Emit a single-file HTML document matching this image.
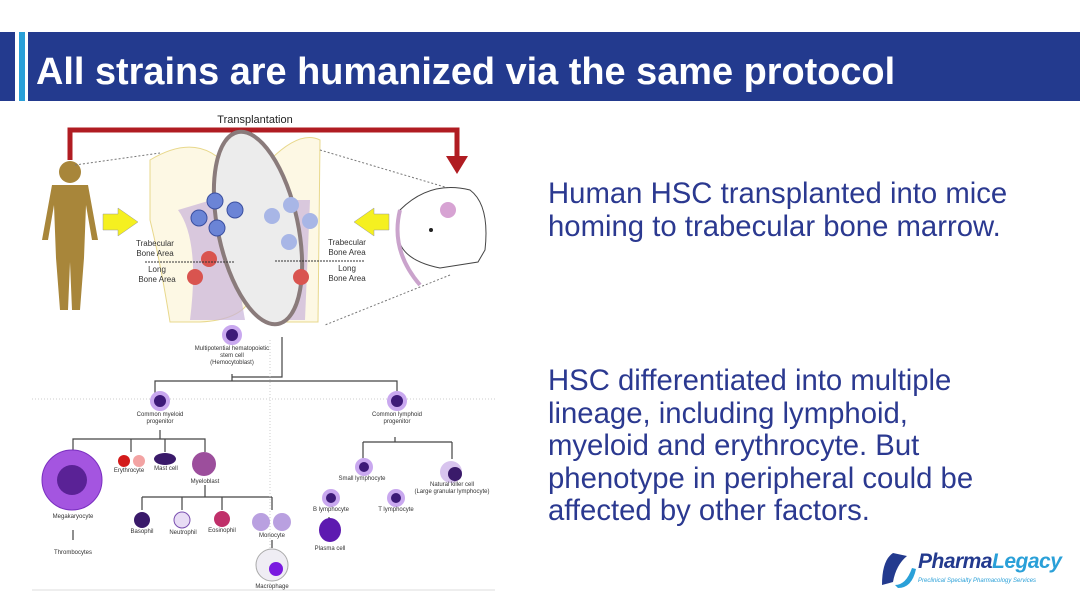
<!DOCTYPE html>
<html><head><meta charset="utf-8"><style>
body{margin:0;width:1080px;height:608px;background:#fff;position:relative;overflow:hidden;font-family:"Liberation Sans",sans-serif}
.t{position:absolute;left:548px;color:#2b3990;font-size:29.3px;line-height:32.5px;white-space:nowrap}
</style></head><body>
<div style="position:absolute;left:0;top:32px;width:15px;height:69px;background:#233a8e"></div>
<div style="position:absolute;left:19px;top:32px;width:6px;height:69px;background:#2aa0d8"></div>
<div style="position:absolute;left:28px;top:32px;width:1052px;height:69px;background:#233a8e"></div>
<div style="position:absolute;left:36px;top:50px;color:#fff;font-weight:bold;font-size:37.9px;line-height:44px;white-space:nowrap">All strains are humanized via the same protocol</div>
<div class="t" style="top:178px">Human HSC transplanted into mice<br>homing to trabecular bone marrow.</div>
<div class="t" style="top:365px">HSC differentiated into multiple<br>lineage, including lymphoid,<br>myeloid and erythrocyte. But<br>phenotype in peripheral could be<br>affected by other factors.</div>
<svg style="position:absolute;left:0;top:0" width="1080" height="608" font-family="Liberation Sans,sans-serif">
<text x="255" y="123" font-size="11" text-anchor="middle" fill="#222">Transplantation</text>
<path d="M70 160 V130 H457 V158" fill="none" stroke="#b01c22" stroke-width="5"/>
<polygon points="446,156 468,156 457,174" fill="#b01c22"/>
<g fill="#a8863a"><circle cx="70" cy="172" r="11"/><path d="M52 185 H88 L98 240 L92 240 L86 205 L84 258 L80 310 H72 L70 262 L68 310 H60 L56 258 L54 205 L48 240 L42 240 Z"/></g>
<path d="M150 160 Q200 130 230 170 L245 160 L250 300 Q240 320 200 322 L170 322 Q160 260 150 220 Z" fill="#fdf8e4" stroke="#e8d88c"/>
<path d="M270 160 Q300 130 320 140 L318 322 L280 322 Z" fill="#fdf8e4" stroke="#e8d88c"/>
<path d="M178 210 Q200 240 190 320 L245 320 Q230 240 245 190 Z" fill="#c9b3da" opacity=".7"/>
<path d="M295 200 L310 200 L305 320 L285 320 Z" fill="#c9b3da" opacity=".7"/>
<ellipse cx="258" cy="228" rx="40" ry="98" fill="#ececec" stroke="#8a7b7b" stroke-width="4" transform="rotate(-12 258 228)"/>
<g fill="#6b84d6" stroke="#3a4fa0"><circle cx="215" cy="201" r="8"/><circle cx="235" cy="210" r="8"/><circle cx="199" cy="218" r="8"/><circle cx="217" cy="228" r="8"/></g>
<g fill="#a8b6e6"><circle cx="272" cy="216" r="8"/><circle cx="291" cy="205" r="8"/><circle cx="289" cy="242" r="8"/><circle cx="310" cy="221" r="8"/></g>
<g fill="#d9544f"><circle cx="209" cy="259" r="8"/><circle cx="195" cy="277" r="8"/><circle cx="301" cy="277" r="8"/></g>
<line x1="145" y1="262" x2="235" y2="262" stroke="#333" stroke-dasharray="2,1"/>
<line x1="275" y1="261" x2="365" y2="261" stroke="#333" stroke-dasharray="2,1"/>
<g font-size="8" fill="#333" text-anchor="middle"><text x="155" y="246">Trabecular</text><text x="155" y="256">Bone Area</text><text x="157" y="272">Long</text><text x="157" y="282">Bone Area</text>
<text x="347" y="245">Trabecular</text><text x="347" y="255">Bone Area</text><text x="347" y="271">Long</text><text x="347" y="281">Bone Area</text></g>
<polygon points="103,214 118,214 118,208 138,222 118,236 118,230 103,230" fill="#f5f020" stroke="#999" stroke-width=".5"/>
<polygon points="389,214 374,214 374,208 354,222 374,236 374,230 389,230" fill="#f5f020" stroke="#999" stroke-width=".5"/>
<g stroke="#777" stroke-dasharray="2,2" fill="none"><path d="M75 165 L160 153"/><path d="M320 150 L455 190"/><path d="M450 275 L325 325"/></g>
<path d="M400 210 Q430 180 470 190 Q490 205 485 250 L478 262 L440 268 Q400 260 398 235 Z" fill="#fff" stroke="#444"/>
<path d="M400 210 Q390 250 420 285" fill="none" stroke="#caa3cc" stroke-width="4"/>
<circle cx="448" cy="210" r="8" fill="#d7a3d3"/><circle cx="431" cy="230" r="2" fill="#222"/>
<g stroke="#444" stroke-width="1.2" fill="none">
<path d="M232 374 V381 M282 337 V377 H232 M155 393 V381 H397 V393"/>
<path d="M160 430 V439 M73 452 V439 H205 V452 M131 439 V452 M165 439 V452"/>
<path d="M205 485 V497 M142 497 H272 M142 497 V510 M182 497 V510 M222 497 V510 M272 497 V510"/>
<path d="M395 437 V442 M363 442 H452 M363 442 V458 M452 442 V459"/>
<path d="M73 530 V540 M272 540 V548 M329 517 V525"/>
</g>
<line x1="270" y1="340" x2="270" y2="592" stroke="#ccc" stroke-dasharray="1,2"/>
<line x1="32" y1="399" x2="495" y2="399" stroke="#ccc" stroke-dasharray="1,2"/>
<line x1="32" y1="590" x2="495" y2="590" stroke="#ddd"/>
<g fill="#3d1a78" stroke="#c9a8ef" stroke-width="4">
<circle cx="232" cy="335" r="8"/><circle cx="160" cy="401" r="8"/><circle cx="397" cy="401" r="8"/>
<circle cx="364" cy="467" r="7"/><circle cx="331" cy="498" r="7"/><circle cx="396" cy="498" r="7"/>
</g>
<circle cx="72" cy="480" r="30" fill="#a455e0" stroke="#7a2fc0"/>
<circle cx="72" cy="480" r="15" fill="#5a2296"/>
<circle cx="124" cy="461" r="6" fill="#d31a1a"/><circle cx="139" cy="461" r="6" fill="#f3a3a3"/>
<ellipse cx="165" cy="459" rx="11" ry="6" fill="#3a1a6a"/>
<circle cx="204" cy="464" r="12" fill="#9c4e9c"/>
<circle cx="142" cy="520" r="8" fill="#3a1a6a"/><circle cx="182" cy="520" r="8" fill="#e8dcf5" stroke="#7a50b0"/>
<circle cx="222" cy="519" r="8" fill="#c0306a"/>
<circle cx="261" cy="522" r="9" fill="#b9a0e0"/><circle cx="282" cy="522" r="9" fill="#b9a0e0"/>
<circle cx="272" cy="565" r="16" fill="#efedf4" stroke="#aaa"/><circle cx="276" cy="569" r="7" fill="#7a1ae0"/>
<circle cx="451" cy="472" r="11" fill="#d8c4ee"/><circle cx="455" cy="474" r="7" fill="#3a1a6a"/>
<ellipse cx="330" cy="530" rx="11" ry="12" fill="#5d1ab0"/>
<g font-size="6" fill="#333" text-anchor="middle">
<text x="232" y="350">Multipotential hematopoietic</text><text x="232" y="357">stem cell</text><text x="232" y="364">(Hemocytoblast)</text>
<text x="160" y="416">Common myeloid</text><text x="160" y="423">progenitor</text>
<text x="397" y="416">Common lymphoid</text><text x="397" y="423">progenitor</text>
<text x="129" y="472">Erythrocyte</text><text x="166" y="470">Mast cell</text><text x="205" y="483">Myeloblast</text>
<text x="73" y="518">Megakaryocyte</text><text x="73" y="554">Thrombocytes</text>
<text x="142" y="533">Basophil</text><text x="183" y="534">Neutrophil</text><text x="222" y="532">Eosinophil</text>
<text x="272" y="537">Monocyte</text><text x="272" y="588">Macrophage</text>
<text x="362" y="480">Small lymphocyte</text><text x="331" y="511">B lymphocyte</text><text x="396" y="511">T lymphocyte</text>
<text x="330" y="550">Plasma cell</text><text x="452" y="486">Natural killer cell</text><text x="452" y="493">(Large granular lymphocyte)</text>
</g>
<path d="M893 553 Q882 560 882 585 L893 582 Q896 565 907 556 Z" fill="#233a8e"/>
<path d="M895 585 Q906 585 912 568 L916 569 Q912 588 898 588 Z" fill="#2aa0d8"/>
<text x="918" y="568" font-size="21" font-style="italic" font-weight="bold" fill="#233a8e" letter-spacing="-0.5">Pharma<tspan fill="#2aa0d8">Legacy</tspan></text>
<text x="918" y="582" font-size="6" font-style="italic" fill="#2aa0d8">Preclinical Specialty Pharmacology Services</text>
</svg>
</body></html>
